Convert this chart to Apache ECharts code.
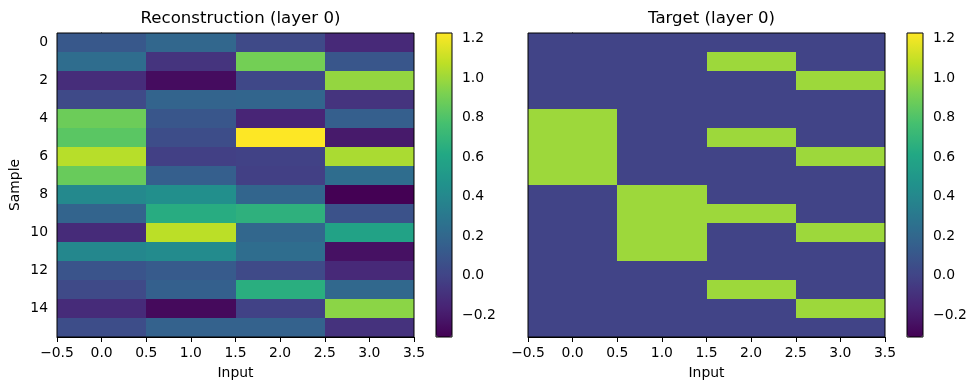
<!DOCTYPE html>
<html>
<head>
<meta charset="utf-8">
<script src="https://cdn.jsdelivr.net/npm/echarts@6/dist/echarts.min.js"></script>
<style>html,body{margin:0;padding:0;background:#fff}#c{width:975px;height:390px}</style>
</head>
<body>
<div id="c"></div>
<script>
// ---- data ----
const inputs = [0, 1, 2, 3];
const samples = ['0','1','2','3','4','5','6','7','8','9','10','11','12','13','14','15'];
const xTicks = [-0.5, 0, 0.5, 1, 1.5, 2, 2.5, 3, 3.5];
const colorbarTicks = [-0.2, 0, 0.2, 0.4, 0.6, 0.8, 1.0, 1.2];
const reconstruction = [
  [0.11, 0.20, 0.03, -0.13],
  [0.24, -0.08, 0.90, 0.10],
  [-0.11, -0.26, 0.02, 0.98],
  [0.03, 0.18, 0.19, -0.08],
  [0.88, 0.10, -0.15, 0.15],
  [0.83, 0.05, 1.228, -0.20],
  [1.06, -0.02, -0.01, 1.03],
  [0.87, 0.15, -0.02, 0.24],
  [0.41, 0.45, 0.19, -0.309],
  [0.18, 0.64, 0.67, 0.08],
  [-0.12, 1.07, 0.20, 0.57],
  [0.40, 0.42, 0.24, -0.24],
  [0.09, 0.13, 0.03, -0.13],
  [0.03, 0.16, 0.65, 0.21],
  [-0.12, -0.27, -0.01, 0.96],
  [0.05, 0.17, 0.17, -0.09]
];
const target = [
  [0,0,0,0],[0,0,1,0],[0,0,0,1],[0,0,0,0],
  [1,0,0,0],[1,0,1,0],[1,0,0,1],[1,0,0,0],
  [0,1,0,0],[0,1,1,0],[0,1,0,1],[0,1,0,0],
  [0,0,0,0],[0,0,1,0],[0,0,0,1],[0,0,0,0]
];
const viridis = ['#440154','#482475','#414487','#355f8d','#2a788e','#21918c','#22a884','#44bf70','#7ad151','#bddf26','#fde725'];

// ---- build ----
const flat = reconstruction.flat();
const vmin = Math.min(...flat), vmax = Math.max(...flat);
function toTriples(m) {
  const out = [];
  m.forEach((row, r) => row.forEach((v, c) => out.push([inputs[c], r, v])));
  return out;
}
const FONT = 'DejaVu Sans';
const minus = s => String(s).replace('-', '\u2212');
const fmt1 = v => minus(Number(v).toFixed(1));

function renderItem(params, api) {
  const c = api.coord([api.value(0), api.value(1)]);
  const s = api.size([1, 1]);
  const col = api.visual('color');
  const x0 = Math.round(c[0] - s[0] / 2), x1 = Math.round(c[0] + s[0] / 2);
  const y0 = Math.round(c[1] - s[1] / 2), y1 = Math.round(c[1] + s[1] / 2);
  return {
    type: 'rect',
    shape: { x: x0, y: y0, width: x1 - x0, height: y1 - y0 },
    style: { fill: col }
  };
}

const PL = [57, 528], CB = [436, 907], TOP = 33, H = 304, W = 357, CBW = 16;
const grids = [], xAxes = [], yAxes = [], series = [], visualMaps = [], titles = [];
const titleText = ['Reconstruction (layer 0)', 'Target (layer 0)'];
const mats = [reconstruction, target];
for (let i = 0; i < 2; i++) {
  grids.push({ left: PL[i], top: TOP, width: W, height: H, show: true, borderColor: '#000', borderWidth: 1, backgroundColor: 'transparent', z: 3 });
  xAxes.push({
    gridIndex: 2 * i, type: 'value', min: -0.5, max: 3.5, interval: 0.5,
    name: 'Input', nameLocation: 'middle', nameGap: 29,
    nameTextStyle: { fontFamily: FONT, fontSize: 13.9, color: '#000' },
    axisLine: { show: true, lineStyle: { color: '#000', width: 1 } },
    axisTick: { show: true, length: 5, lineStyle: { color: '#000' } },
    axisLabel: { show: true, margin: 9, formatter: fmt1, fontFamily: FONT, fontSize: 13.9, color: '#000' },
    splitLine: { show: false }
  });
  yAxes.push({
    gridIndex: 2 * i, type: 'category', data: samples, inverse: true,
    name: i === 0 ? 'Sample' : '', nameLocation: 'middle', nameGap: 35,
    nameTextStyle: { fontFamily: FONT, fontSize: 13.9, color: '#000' },
    axisLine: { show: true, lineStyle: { color: '#000', width: 1 } },
    axisTick: { show: true, length: 5, interval: 1, alignWithLabel: true, lineStyle: { color: '#000' } },
    axisLabel: { show: i === 0, interval: 1, margin: 9, fontFamily: FONT, fontSize: 13.9, color: '#000' },
    splitLine: { show: false }
  });
  // colorbar frame + tick axis
  grids.push({ left: CB[i], top: TOP, width: CBW, height: H, show: true, borderColor: '#000', borderWidth: 1, backgroundColor: 'transparent', z: 10 });
  xAxes.push({ gridIndex: 2 * i + 1, type: 'value', show: false, min: 0, max: 1 });
  yAxes.push({
    gridIndex: 2 * i + 1, type: 'value', position: 'right', min: vmin, max: vmax,
    axisLine: { show: false },
    axisTick: { show: true, length: 5, customValues: colorbarTicks, lineStyle: { color: '#000' } },
    axisLabel: { show: true, margin: 10, customValues: colorbarTicks, formatter: fmt1, fontFamily: FONT, fontSize: 13.9, color: '#000' },
    splitLine: { show: false }
  });
  series.push({
    type: 'custom', xAxisIndex: 2 * i, yAxisIndex: 2 * i, renderItem: renderItem,
    encode: { x: 0, y: 1 }, data: toTriples(mats[i]), clip: true, z: 2
  });
  visualMaps.push({
    type: 'continuous', seriesIndex: i, dimension: 2, min: vmin, max: vmax,
    inRange: { color: viridis }, calculable: false, hoverLink: false,
    orient: 'vertical', left: CB[i], top: TOP, itemWidth: CBW, itemHeight: H,
    padding: 0, text: null, showLabel: false, z: 4
  });
  titles.push({
    text: titleText[i], left: PL[i] + W / 2, top: 5, textAlign: 'center',
    textStyle: { fontFamily: FONT, fontSize: 16.6, fontWeight: 'normal', color: '#000' }
  });
}

const chart = echarts.init(document.getElementById('c'), null, { renderer: 'canvas' });
chart.setOption({
  animation: false,
  backgroundColor: '#fff',
  title: titles,
  grid: grids,
  xAxis: xAxes,
  yAxis: yAxes,
  visualMap: visualMaps,
  series: series
});
</script>
</body>
</html>
